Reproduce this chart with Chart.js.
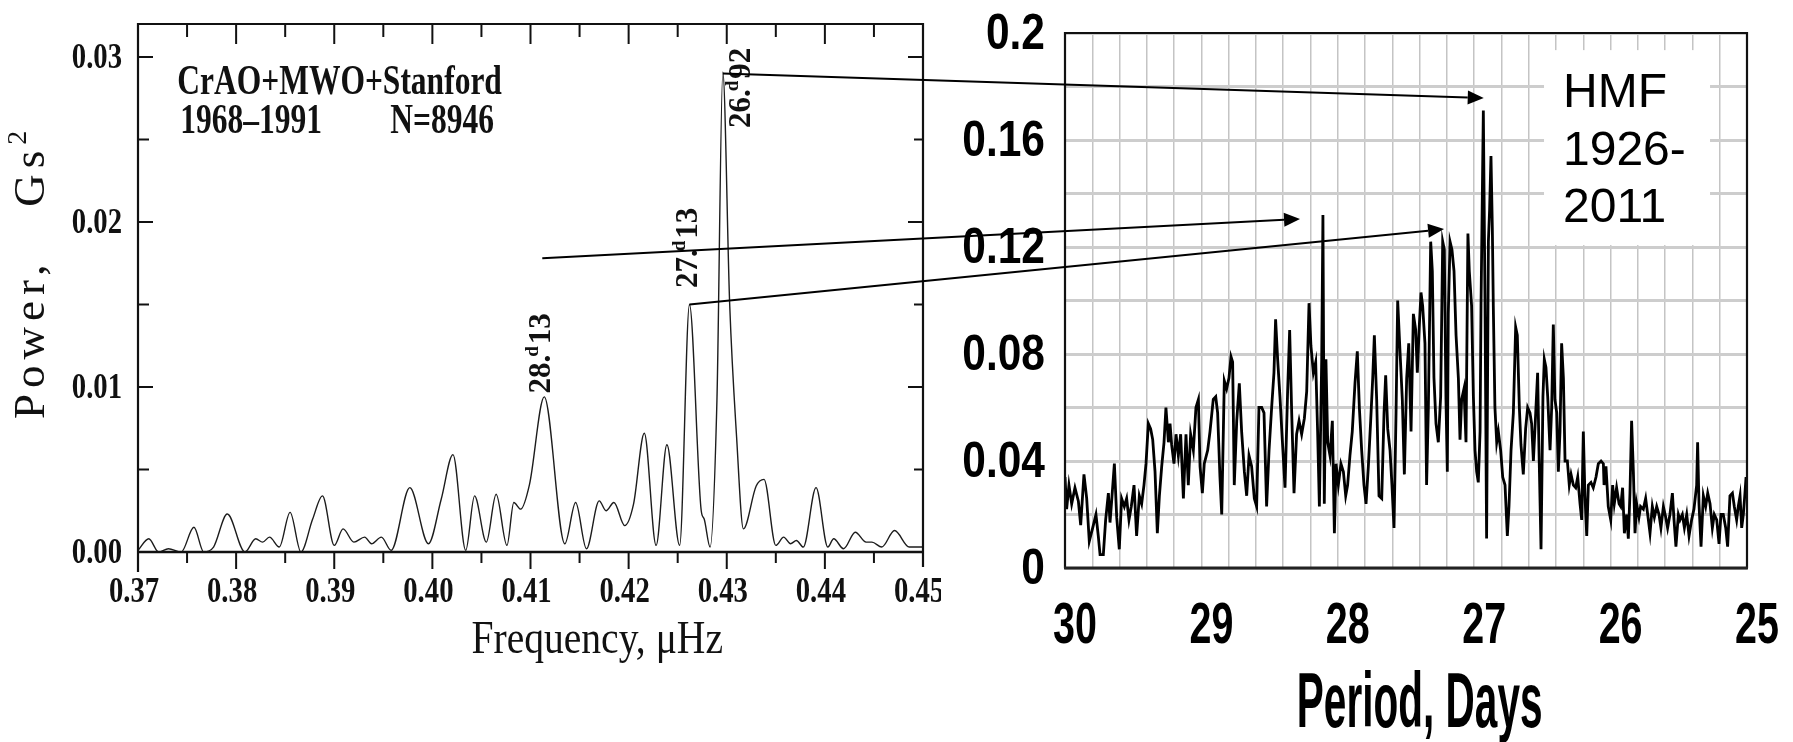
<!DOCTYPE html>
<html>
<head>
<meta charset="utf-8">
<script src="https://cdn.jsdelivr.net/npm/chart.js@4.4.1/dist/chart.umd.min.js"></script>
<style>
  html, body { margin: 0; padding: 0; background: #fff; }
  #wrap { position: relative; width: 1793px; height: 742px; overflow: hidden; background: #fff; }
  #left { position: absolute; left: 0; top: 0; }
  #right { position: absolute; left: 900px; top: 0; }
  #arrows { position: absolute; left: 0; top: 0; pointer-events: none; }
</style>
</head>
<body>
<div id="wrap">
  <canvas id="left" width="941" height="742"></canvas>
  <canvas id="right" width="893" height="742"></canvas>
  <canvas id="arrows" width="1793" height="742"></canvas>
</div>
<script>
// ---- left panel: CrAO+MWO+Stanford power spectrum ----
const freqValues = [0.3700,0.3711,0.3721,0.3731,0.3744,0.3757,0.3767,0.3777,0.3791,0.3809,
  0.3820,0.3827,0.3834,0.3844,0.3855,0.3866,0.3878,0.3888,0.3900,0.3909,
  0.3920,0.3931,0.3938,0.3948,0.3958,0.3977,0.3996,0.4009,0.4021,0.4034,
  0.4043,0.4055,0.4065,0.4076,0.4083,0.4090,0.4099,0.4114,0.4135,0.4146,
  0.4157,0.4170,0.4177,0.4185,0.4196,0.4205,0.4216,0.4228,0.4239,0.4252,
  0.4262,0.4274,0.4277,0.4283,0.4290,0.4296,0.4303,0.4310,0.4317,0.4330,
  0.4338,0.4350,0.4358,0.4365,0.4371,0.4378,0.4391,0.4403,0.4409,0.4419,
  0.4431,0.4442,0.4448,0.4458,0.4471,0.4486,0.4500];
const powerValues = [0.0001,0.0008,0.0000,0.0002,0.0000,0.0015,0.0000,0.0003,0.0023,0.0000,
  0.0008,0.0006,0.0009,0.0003,0.0024,0.0000,0.0020,0.0034,0.0004,0.0014,
  0.0006,0.0009,0.0005,0.0009,0.0001,0.0039,0.0005,0.0032,0.0059,0.0001,
  0.0034,0.0006,0.0035,0.0004,0.0030,0.0026,0.0041,0.0094,0.0005,0.0030,
  0.0002,0.0031,0.0025,0.0030,0.0016,0.0029,0.0072,0.0004,0.0065,0.0004,
  0.0150,0.0025,0.0020,0.0003,0.0092,0.0291,0.0150,0.0070,0.0014,0.0040,
  0.0044,0.0004,0.0009,0.0005,0.0007,0.0003,0.0039,0.0003,0.0008,0.0002,
  0.0012,0.0006,0.0006,0.0003,0.0013,0.0003,0.0003];
const freqTicks = [0.37, 0.38, 0.39, 0.40, 0.41, 0.42, 0.43, 0.44, 0.45];
const powerTicks = [0.00, 0.01, 0.02, 0.03];
const peakNames = ['28.', '27.', '26.'];
const peakDecimals = ['13', '13', '92'];
const peakFreq = [0.4112, 0.4262, 0.4316];
const peakPower = [0.0096, 0.0160, 0.0257];

// ---- right panel: HMF 1926-2011 ----
const periodValues = [
  30.000,29.988,29.971,29.951,29.927,29.902,29.885,29.861,29.841,29.822,29.797,29.773,29.756,29.743,
  29.719,29.702,29.682,29.670,29.658,29.638,29.621,29.602,29.585,29.565,29.548,29.531,29.514,29.494,
  29.475,29.455,29.438,29.421,29.406,29.389,29.372,29.357,29.340,29.323,29.308,29.291,29.274,29.260,
  29.242,29.230,29.218,29.201,29.186,29.169,29.152,29.132,29.113,29.096,29.079,29.059,29.040,29.022,
  29.010,28.993,28.979,28.954,28.937,28.913,28.895,28.881,28.864,28.851,
  28.832,28.815,28.798,28.783,28.771,28.759,28.741,28.722,28.705,28.685,
  28.668,28.651,28.632,28.612,28.595,28.578,28.558,28.541,28.522,28.504,
  28.485,28.468,28.456,28.441,28.424,28.407,28.387,28.368,28.353,28.338,
  28.321,28.302,28.284,28.265,28.245,28.228,28.211,28.197,28.179,28.162,
  28.148,28.135,28.118,28.109,28.099,28.087,28.074,28.057,28.040,28.025,
  28.013,27.996,27.977,27.959,27.942,27.928,27.911,27.894,27.874,27.857,
  27.842,27.825,27.808,27.793,27.776,27.759,27.744,27.732,27.715,27.698,
  27.678,27.661,27.649,27.634,27.617,27.603,27.588,27.573,27.561,27.544,
  27.527,27.512,27.495,27.480,27.463,27.446,27.429,27.417,27.402,27.390,
  27.378,27.361,27.349,27.336,27.319,27.307,27.295,27.280,27.263,27.246,
  27.231,27.219,27.207,27.197,27.190,27.177,27.163,27.148,27.133,27.116,
  27.104,27.092,27.075,27.060,27.046,27.036,
  27.019,27.006,26.994,26.982,26.970,26.957,26.950,26.940,26.933,26.921,
  26.909,26.896,26.887,26.877,26.867,26.860,26.848,26.835,26.823,26.806,
  26.791,26.774,26.757,26.745,26.730,26.713,26.696,26.684,26.669,26.657,
  26.640,26.623,26.608,26.591,26.579,26.566,26.549,26.535,26.525,26.510,
  26.496,26.486,26.474,26.461,26.444,26.432,26.420,26.408,26.395,26.383,
  26.371,26.359,26.346,26.334,26.317,26.303,26.290,26.273,26.256,26.241,
  26.224,26.212,26.200,26.188,26.175,26.163,26.144,26.127,26.107,26.090,
  26.070,26.053,
  26.048,26.034,26.017,25.999,25.985,25.973,25.956,25.938,25.926,25.912,
  25.899,25.882,25.870,25.858,25.846,25.833,25.821,25.809,25.792,25.780,
  25.760,25.743,25.728,25.711,25.694,25.679,25.662,25.645,25.631,25.613,
  25.596,25.582,25.565,25.547,25.535,25.521,25.503,25.491,25.474,25.459,
  25.442,25.425,25.406,25.389,25.369,25.362,25.352,25.337,25.320,25.303,
  25.288,25.271,25.254,25.240,25.222,25.205,25.191,25.174,25.156,25.142,
  25.125,25.107,25.093,25.076,25.064,25.051,25.039,25.027,25.015,25.007];
const hmfPower = [
  0.034,0.022,0.031,0.024,0.030,0.025,0.016,0.035,0.026,0.010,0.015,0.020,0.012,0.005,
  0.005,0.018,0.028,0.017,0.025,0.039,0.019,0.007,0.026,0.023,0.026,0.018,0.023,0.031,
  0.012,0.027,0.024,0.031,0.039,0.054,0.052,0.048,0.036,0.013,0.027,0.038,0.047,0.060,
  0.047,0.054,0.046,0.039,0.050,0.042,0.050,0.026,0.050,0.031,0.050,0.044,0.060,0.063,
  0.038,0.028,0.039,0.044,0.051,0.063,0.064,0.058,0.034,0.020,
  0.070,0.067,0.071,0.079,0.077,0.031,0.055,0.069,0.051,0.036,
  0.027,0.042,0.038,0.026,0.023,0.060,0.060,0.058,0.023,0.044,
  0.060,0.073,0.093,0.078,0.064,0.048,0.030,0.066,0.089,0.058,
  0.028,0.050,0.055,0.050,0.056,0.066,0.099,0.083,0.073,0.077,
  0.051,0.023,0.078,0.132,0.024,0.078,0.047,0.042,0.055,0.013,
  0.039,0.031,0.039,0.036,0.027,0.031,0.042,0.051,0.069,0.081,
  0.060,0.044,0.031,0.024,0.038,0.055,0.071,0.087,0.063,0.027,
  0.026,0.058,0.072,0.052,0.044,0.031,0.015,0.058,0.100,0.081,
  0.063,0.035,0.071,0.084,0.051,0.095,0.089,0.073,0.091,0.103,
  0.098,0.084,0.031,0.060,0.122,0.111,0.071,0.054,0.047,0.064,
  0.122,0.119,0.063,0.036,0.095,0.122,0.119,0.111,0.087,0.071,
  0.048,0.063,0.067,0.047,0.125,0.111,
  0.098,0.064,0.044,0.036,0.032,0.051,0.098,0.141,0.171,0.101,
  0.011,0.122,0.134,0.154,0.127,0.098,0.060,0.047,0.051,0.044,
  0.034,0.031,0.012,0.023,0.044,0.058,0.090,0.087,0.060,0.046,
  0.035,0.052,0.060,0.058,0.054,0.040,0.058,0.073,0.044,0.007,
  0.064,0.078,0.075,0.064,0.044,0.060,0.091,0.063,0.058,0.036,
  0.051,0.084,0.071,0.040,0.040,0.031,0.035,0.031,0.030,0.034,
  0.024,0.018,0.051,0.027,0.012,0.031,0.032,0.030,0.034,0.039,
  0.040,0.039,
  0.031,0.038,0.023,0.018,0.031,0.024,0.030,0.024,0.023,0.030,
  0.013,0.020,0.011,0.028,0.055,0.036,0.013,0.024,0.019,0.023,
  0.022,0.026,0.020,0.013,0.023,0.019,0.023,0.020,0.015,0.023,
  0.019,0.015,0.020,0.028,0.018,0.008,0.020,0.018,0.020,0.015,
  0.020,0.012,0.018,0.022,0.031,0.047,0.024,0.008,0.027,0.023,
  0.028,0.024,0.015,0.020,0.018,0.009,0.020,0.020,0.015,0.008,
  0.027,0.028,0.023,0.018,0.023,0.027,0.015,0.020,0.028,0.034];
const periodTicks = [30, 29, 28, 27, 26, 25];
const hmfTicks = [0, 0.04, 0.08, 0.12, 0.16, 0.2];
const hmfLabel = ['HMF', '1926-', '2011'];

// ---- arrows: left peak (freq, power) -> right peak (period, power) ----
const arrowFromFreq = [0.4296, 0.4112, 0.4262];
const arrowFromPower = [0.0290, 0.0178, 0.0150];
const arrowToPeriod = [26.93, 28.277, 27.221];
const arrowToPower = [0.1757, 0.1305, 0.1267];

const RIGHT_OFFSET = 900;

function squeezeText(ctx, text, x, y, sx) {
  ctx.save();
  ctx.translate(x, y);
  ctx.scale(sx, 1);
  ctx.fillText(text, 0, 0);
  ctx.restore();
}

function seg(ctx, x0, y0, x1, y1) {
  ctx.beginPath();
  ctx.moveTo(x0, y0);
  ctx.lineTo(x1, y1);
  ctx.stroke();
}

const leftDecor = {
  id: 'leftDecor',
  afterDraw(chart) {
    const ctx = chart.ctx;
    const a = chart.chartArea;
    const x = chart.scales.x, y = chart.scales.y;
    ctx.save();
    ctx.strokeStyle = '#111';
    ctx.fillStyle = '#111';

    // frame
    ctx.lineWidth = 2.2;
    ctx.beginPath();
    ctx.moveTo(a.left, a.bottom + 20);
    ctx.lineTo(a.left, a.top);
    ctx.lineTo(a.right, a.top);
    ctx.lineTo(a.right, a.bottom + 15);
    ctx.stroke();
    ctx.lineWidth = 2.6;
    seg(ctx, a.left, a.bottom, a.right, a.bottom);

    // inward ticks
    ctx.lineWidth = 2;
    x.ticks.forEach(t => {
      const px = x.getPixelForValue(t.value);
      if (px < a.left + 2 || px > a.right - 2) return;
      const major = Math.abs(t.value * 100 - Math.round(t.value * 100)) < 1e-6;
      seg(ctx, px, a.top, px, a.top + (major ? 20 : 13));
      seg(ctx, px, a.bottom, px, a.bottom + (major ? 17 : 11));
    });
    y.ticks.forEach(t => {
      const py = y.getPixelForValue(t.value);
      if (py > a.bottom - 2 || py < a.top + 2) return;
      const major = Math.abs(t.value * 100 - Math.round(t.value * 100)) < 1e-6;
      seg(ctx, a.left, py, a.left + (major ? 15 : 11), py);
      seg(ctx, a.right, py, a.right - (major ? 15 : 9), py);
    });

    // tick labels
    ctx.font = 'bold 35px "Liberation Serif", serif';
    ctx.textAlign = 'center';
    ctx.textBaseline = 'alphabetic';
    freqTicks.forEach(v => squeezeText(ctx, v.toFixed(2), x.getPixelForValue(v) - 4, a.bottom + 50, 0.82));
    ctx.textAlign = 'right';
    ctx.textBaseline = 'middle';
    powerTicks.forEach(v => squeezeText(ctx, v.toFixed(2), a.left - 16, y.getPixelForValue(v) + 2, 0.82));

    // axis titles
    ctx.font = '46px "Liberation Serif", serif';
    ctx.textAlign = 'center';
    ctx.textBaseline = 'alphabetic';
    squeezeText(ctx, 'Frequency, \u03bcHz', x.getPixelForValue(0.4168), 653, 0.86);

    ctx.save();
    ctx.translate(44, 272);
    ctx.rotate(-Math.PI / 2);
    ctx.font = '45px "Liberation Serif", serif';
    ctx.letterSpacing = '6px';
    ctx.textAlign = 'left';
    ctx.textBaseline = 'alphabetic';
    const t1 = 'Power,   Gs';
    const w1 = ctx.measureText(t1).width;
    ctx.fillText(t1, -147, 0);
    ctx.font = '28px "Liberation Serif", serif';
    ctx.fillText('2', -147 + w1, -18);
    ctx.restore();

    // data set annotation
    ctx.font = 'bold 42px "Liberation Serif", serif';
    ctx.textAlign = 'left';
    ctx.textBaseline = 'alphabetic';
    squeezeText(ctx, 'CrAO+MWO+Stanford', x.getPixelForValue(0.3740), y.getPixelForValue(0.02777), 0.75);
    squeezeText(ctx, '1968\u20131991', x.getPixelForValue(0.3743), y.getPixelForValue(0.02541), 0.75);
    squeezeText(ctx, 'N=8946', x.getPixelForValue(0.3957), y.getPixelForValue(0.02541), 0.75);

    // peak period labels, rotated
    peakNames.forEach((name, i) => {
      ctx.save();
      ctx.translate(x.getPixelForValue(peakFreq[i]), y.getPixelForValue(peakPower[i]));
      ctx.rotate(-Math.PI / 2);
      ctx.textAlign = 'left';
      ctx.textBaseline = 'middle';
      ctx.font = 'bold 31px "Liberation Serif", serif';
      ctx.fillText(name, 0, 0);
      const w = ctx.measureText(name).width;
      ctx.font = 'bold 19px "Liberation Serif", serif';
      ctx.fillText('d', w - 2, -9);
      const wd = ctx.measureText('d').width;
      ctx.font = 'bold 31px "Liberation Serif", serif';
      ctx.fillText(peakDecimals[i], w + wd, 0);
      ctx.restore();
    });
    ctx.restore();
  }
};

const leftChart = new Chart(document.getElementById('left'), {
  type: 'line',
  data: {
    datasets: [{
      data: freqValues.map((f, i) => ({ x: f, y: powerValues[i] })),
      borderColor: '#1c1c1c',
      borderWidth: 1.4,
      pointRadius: 0,
      cubicInterpolationMode: 'monotone',
      fill: false
    }]
  },
  options: {
    responsive: false,
    animation: false,
    events: [],
    layout: { padding: { top: 24, right: 18, left: 0, bottom: 0 } },
    plugins: { legend: { display: false }, tooltip: { enabled: false } },
    scales: {
      x: {
        type: 'linear', min: 0.37, max: 0.45,
        afterFit(s) { s.height = 190; },
        ticks: { display: false, stepSize: 0.005 },
        grid: { display: false }, border: { display: false }
      },
      y: {
        min: 0, max: 0.032,
        afterFit(s) { s.width = 138; },
        ticks: { display: false, stepSize: 0.005, includeBounds: false },
        grid: { display: false }, border: { display: false }
      }
    }
  },
  plugins: [leftDecor]
});

const rightDecor = {
  id: 'rightDecor',
  beforeDatasetsDraw(chart) {
    const ctx = chart.ctx;
    const x = chart.scales.x, y = chart.scales.y;
    // white label box over the grid
    const bx0 = x.getPixelForValue(26.488), bx1 = x.getPixelForValue(25.271);
    const by0 = y.getPixelForValue(0.1936), by1 = y.getPixelForValue(0.1207);
    ctx.save();
    ctx.fillStyle = '#fff';
    ctx.fillRect(bx0, by0, bx1 - bx0, by1 - by0);
    ctx.fillStyle = '#000';
    ctx.font = '48px "Liberation Sans", Arial, sans-serif';
    ctx.textAlign = 'left';
    ctx.textBaseline = 'alphabetic';
    const lx = x.getPixelForValue(26.349);
    [0.1723, 0.1507, 0.1294].forEach((v, i) => ctx.fillText(hmfLabel[i], lx, y.getPixelForValue(v)));
    ctx.restore();
  },
  afterDraw(chart) {
    const ctx = chart.ctx;
    const a = chart.chartArea;
    const x = chart.scales.x, y = chart.scales.y;
    ctx.save();
    ctx.strokeStyle = '#111';
    ctx.lineWidth = 2.2;
    ctx.beginPath();
    ctx.moveTo(a.left, a.bottom);
    ctx.lineTo(a.left, a.top);
    ctx.lineTo(a.right, a.top);
    ctx.lineTo(a.right, a.bottom);
    ctx.stroke();
    ctx.strokeStyle = '#222';
    ctx.lineWidth = 3;
    seg(ctx, a.left - 1, a.bottom, a.right + 1, a.bottom);

    ctx.fillStyle = '#000';
    ctx.font = 'bold 50px "Liberation Sans", Arial, sans-serif';
    ctx.textAlign = 'right';
    ctx.textBaseline = 'middle';
    hmfTicks.forEach(v => squeezeText(ctx, String(Number(v.toFixed(2))), a.left - 20, y.getPixelForValue(v) + 2, 0.85));

    ctx.font = 'bold 58px "Liberation Sans", Arial, sans-serif';
    ctx.textAlign = 'center';
    ctx.textBaseline = 'alphabetic';
    periodTicks.forEach(v => squeezeText(ctx, String(v), x.getPixelForValue(v) + 10, 643, 0.68));

    ctx.font = 'bold 78px "Liberation Sans", Arial, sans-serif';
    squeezeText(ctx, 'Period, Days', x.getPixelForValue(27.4), 727, 0.52);
    ctx.restore();
  }
};

const rightChart = new Chart(document.getElementById('right'), {
  type: 'line',
  data: {
    datasets: [{
      data: periodValues.map((p, i) => ({ x: p, y: hmfPower[i] })),
      borderColor: '#000',
      borderWidth: 2.8,
      pointRadius: 0,
      tension: 0,
      fill: false
    }]
  },
  options: {
    responsive: false,
    animation: false,
    events: [],
    layout: { padding: { top: 33, right: 46, left: 0, bottom: 0 } },
    plugins: { legend: { display: false }, tooltip: { enabled: false } },
    scales: {
      x: {
        type: 'linear', reverse: true, min: 25, max: 30,
        afterFit(s) { s.height = 742 - 568; },
        ticks: { display: false, stepSize: 0.2 },
        grid: { color: '#c4c4c4', lineWidth: 1.5, drawTicks: false },
        border: { display: false }
      },
      y: {
        min: 0, max: 0.2,
        afterFit(s) { s.width = 165; },
        ticks: { display: false, stepSize: 0.02 },
        grid: { color: '#cdcdcd', lineWidth: 3, drawTicks: false },
        border: { display: false }
      }
    }
  },
  plugins: [rightDecor]
});

function drawArrows() {
  const ctx = document.getElementById('arrows').getContext('2d');
  const lx = leftChart.scales.x, ly = leftChart.scales.y;
  const rx = rightChart.scales.x, ry = rightChart.scales.y;
  ctx.strokeStyle = '#000';
  ctx.fillStyle = '#000';
  ctx.lineWidth = 2;
  arrowFromFreq.forEach((f, i) => {
    const x0 = lx.getPixelForValue(f), y0 = ly.getPixelForValue(arrowFromPower[i]);
    const x1 = RIGHT_OFFSET + rx.getPixelForValue(arrowToPeriod[i]);
    const y1 = ry.getPixelForValue(arrowToPower[i]);
    const ang = Math.atan2(y1 - y0, x1 - x0);
    const head = 16, half = 7;
    const bx = x1 - head * Math.cos(ang), by = y1 - head * Math.sin(ang);
    seg(ctx, x0, y0, bx, by);
    ctx.beginPath();
    ctx.moveTo(x1, y1);
    ctx.lineTo(bx + half * Math.sin(ang), by - half * Math.cos(ang));
    ctx.lineTo(bx - half * Math.sin(ang), by + half * Math.cos(ang));
    ctx.closePath();
    ctx.fill();
  });
}
drawArrows();
</script>
</body>
</html>
